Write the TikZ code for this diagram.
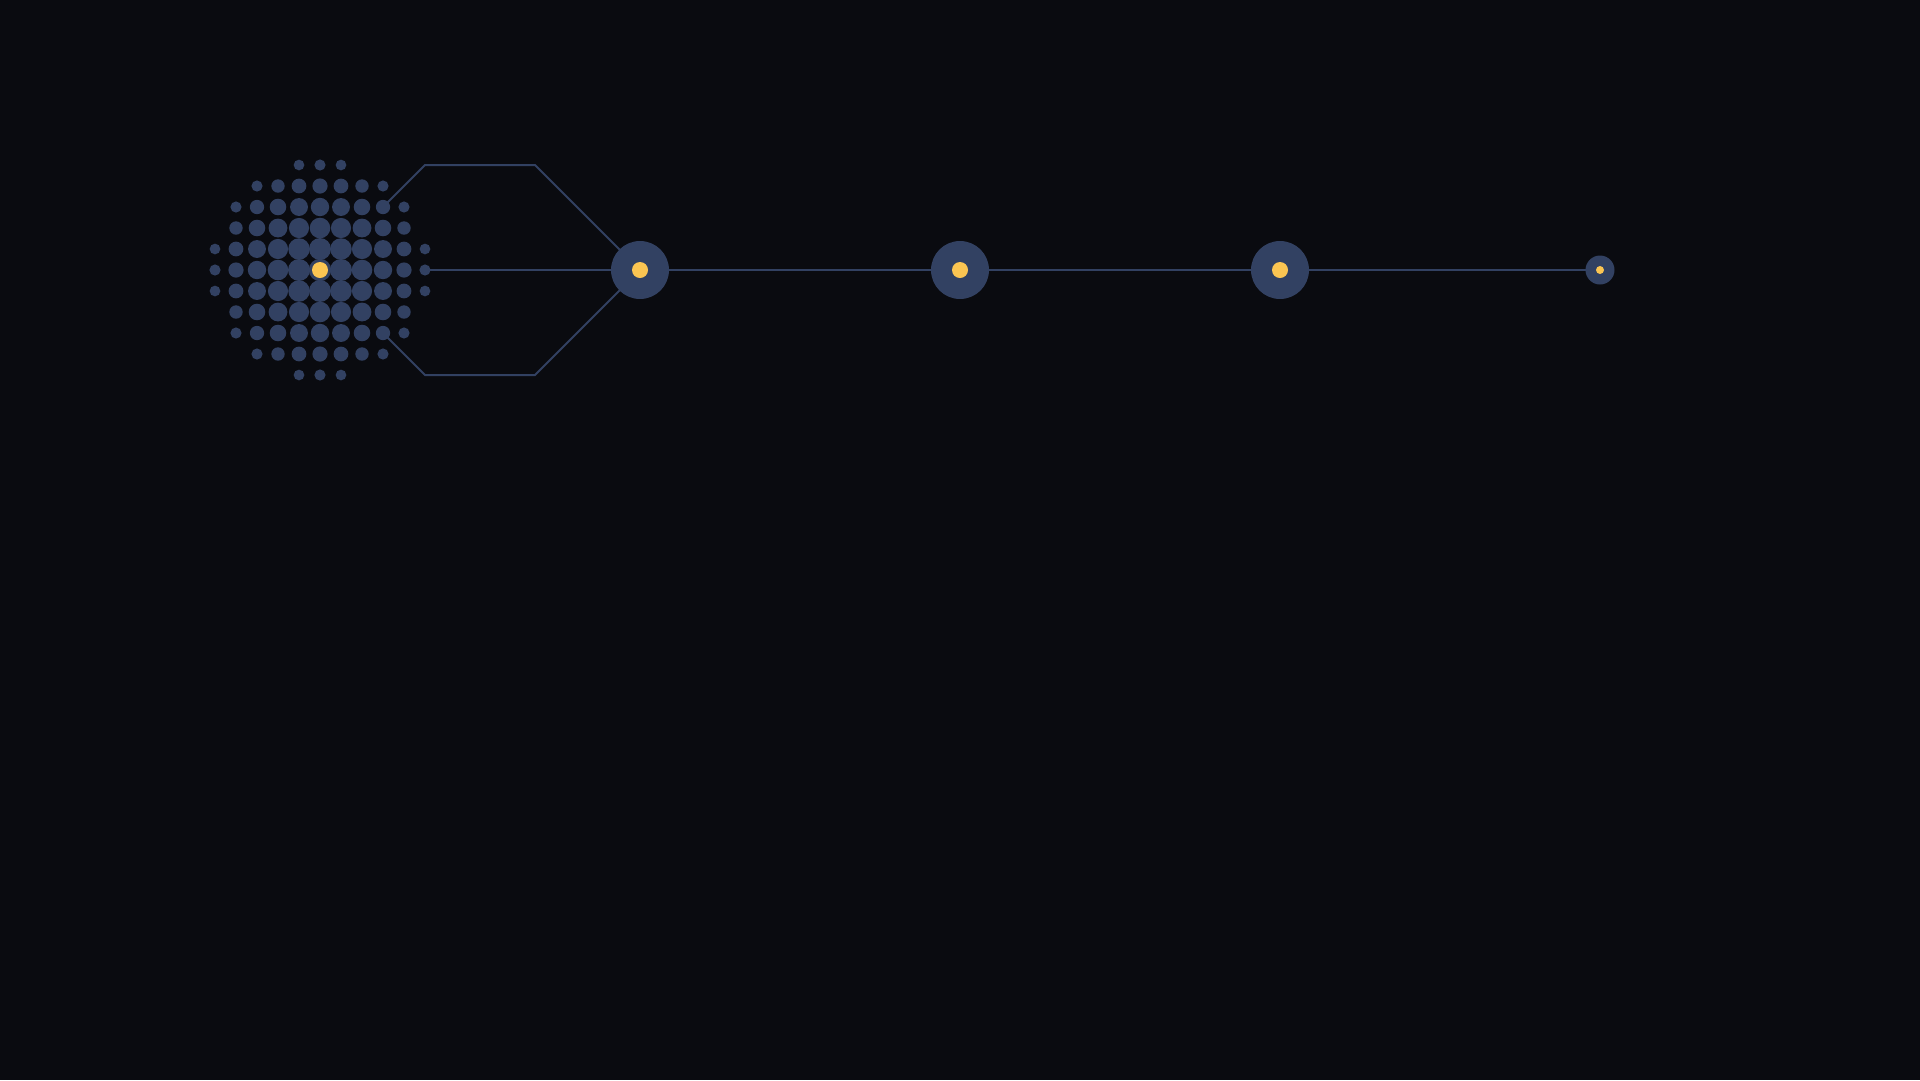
\documentclass[tikz,border=0pt]{standalone}
\definecolor{bgc}{RGB}{10,11,16}
\definecolor{dotc}{RGB}{50,65,98}
\definecolor{gold}{RGB}{251,197,82}
\pgfdeclarelayer{bglayer}
\pgfdeclarelayer{linelayer}
\pgfsetlayers{bglayer,linelayer,main}
\begin{document}
\begin{tikzpicture}[x=1pt,y=-1pt,
  gdot/.style={circle,fill=dotc,inner sep=0pt,draw=none},
  hub/.style={circle,fill=dotc,inner sep=0pt,minimum size=58pt},
  smallhub/.style={circle,fill=dotc,inner sep=0pt,minimum size=29pt},
  core/.style={circle,fill=gold,inner sep=0pt,minimum size=16pt},
  smallcore/.style={circle,fill=gold,inner sep=0pt,minimum size=8pt},
  wire/.style={draw=dotc,line width=2pt}]
\begin{pgfonlayer}{bglayer}
\fill[bgc] (0,0) rectangle (1920,1080);
\end{pgfonlayer}
\useasboundingbox (0,0) rectangle (1920,1080);
% dot cluster
\foreach \i in {-5,...,5}{\foreach \j in {-5,...,5}{
  \pgfmathtruncatemacro\dd{\i*\i+\j*\j}
  \ifnum\dd<27
    \pgfmathsetmacro\rr{2*(11.2-0.225*\dd)}
    \node[gdot,minimum size=\rr pt] (g\i\j) at (320+21*\i,270+21*\j) {};
  \fi}}
\node[core] (c0) at (g00) {};
% hubs
\node[hub] (n1) at (640,270) {};
\node[core] (c1) at (n1) {};
\node[hub] (n2) at (960,270) {};
\node[core] (c2) at (n2) {};
\node[hub] (n3) at (1280,270) {};
\node[core] (c3) at (n3) {};
\node[smallhub] (n4) at (1600,270) {};
\node[smallcore] (c4) at (n4) {};
% connectors
\coordinate (tA) at (425,165);
\coordinate (tB) at (535,165);
\coordinate (bA) at (425,375);
\coordinate (bB) at (535,375);
\begin{pgfonlayer}{linelayer}
\draw[wire] (g3-3.center) -- (tA) -- (tB) -- (n1.center);
\draw[wire] (g33.center) -- (bA) -- (bB) -- (n1.center);
\draw[wire] (g50.center) -- (n1.center) -- (n2.center) -- (n3.center) -- (n4.center);
\end{pgfonlayer}
\end{tikzpicture}
\end{document}
